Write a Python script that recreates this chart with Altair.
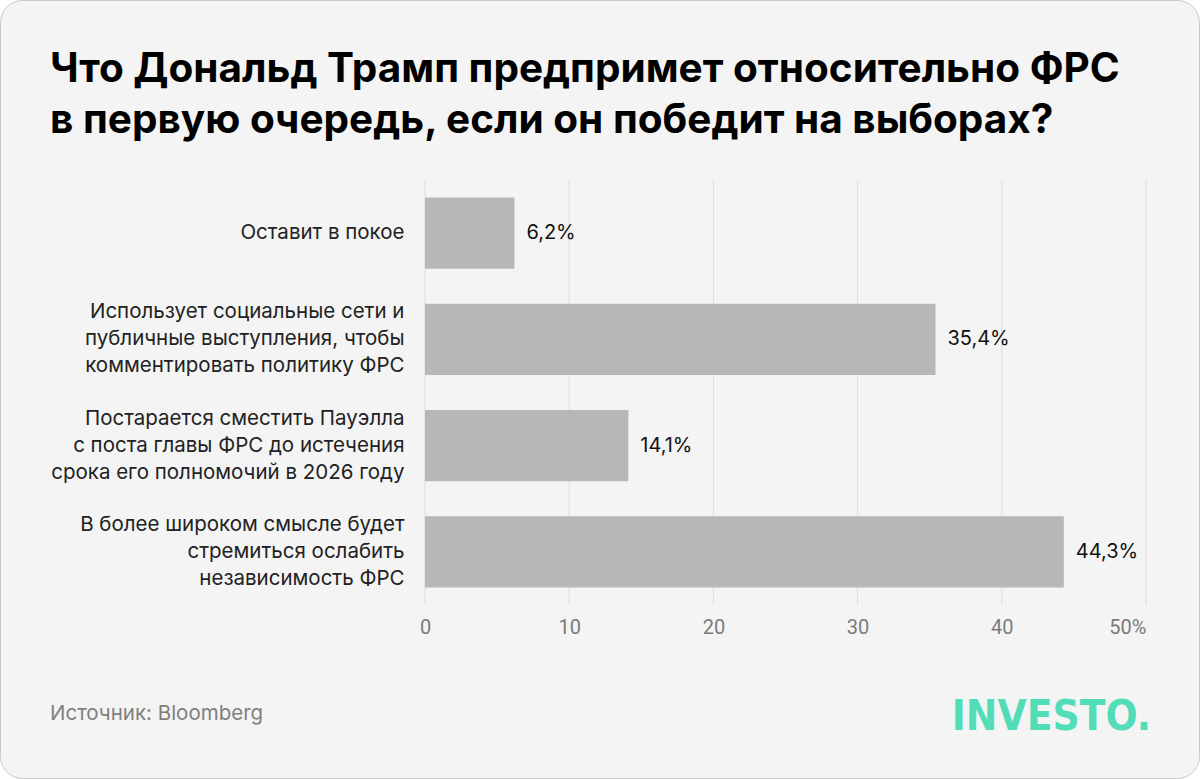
import altair as alt
import pandas as pd

# ---- data ----
CATEGORIES = [
    "Оставит в покое",
    "Использует социальные сети и\nпубличные выступления, чтобы\nкомментировать политику ФРС",
    "Постарается сместить Пауэлла\nс поста главы ФРС до истечения\nсрока его полномочий в 2026 году",
    "В более широком смысле будет\nстремиться ослабить\nнезависимость ФРС",
]
VALUES = [6.2, 35.4, 14.1, 44.3]
X_TICKS = [0, 10, 20, 30, 40, 50]

TITLE = "Что Дональд Трамп предпримет относительно ФРС\nв первую очередь, если он победит на выборах?"
SOURCE = "Источник: Bloomberg"
LOGO = "INVESTO."

FONT = "Inter, 'Liberation Sans', sans-serif"
TICK_FONT = "Roboto, 'Liberation Sans', sans-serif"

df = pd.DataFrame({
    "cat": CATEGORIES,
    "value": VALUES,
    "label": [f"{v:.1f}".replace(".", ",") + "%" for v in VALUES],
})
ticks_df = pd.DataFrame({"tick": X_TICKS})

W, H = 721, 425
PL, PT = 425, 180
LH = 27

one = pd.DataFrame({"k": [0]})

x_scale = alt.Scale(domain=[0, 50], nice=False)

card = alt.Chart(one).mark_rect(
    fill="#f4f4f4", stroke="#c9c9c9", strokeWidth=1, cornerRadius=22
).encode(
    x=alt.value(0.5 - PL), x2=alt.value(1199.5 - PL),
    y=alt.value(0.5 - PT), y2=alt.value(778.5 - PT),
)

grid = alt.Chart(ticks_df).mark_rule(color="#dcdcdc", strokeWidth=1).encode(
    x=alt.X("tick:Q", scale=x_scale, title=None),
    y=alt.value(0), y2=alt.value(H),
)

y_enc = alt.Y(
    "cat:N", sort=CATEGORIES, title=None,
    scale=alt.Scale(paddingInner=0.33, paddingOuter=0.165),
    axis=alt.Axis(
        labelExpr="split(datum.label, '\\n')",
        labelOffset={
            "condition": {"test": "length(split(datum.label, '\\n')) > 1", "value": -LH},
            "value": 0,
        },
        labelFont=FONT, labelFontSize=20.5, labelLineHeight=LH,
        labelColor="#222222", labelPadding=21, labelLimit=0,
        labelAlign="right", labelBaseline="middle",
        ticks=False, domain=False, grid=False, zindex=1,
    ),
)

x_enc = alt.X(
    "value:Q", title=None, scale=x_scale,
    axis=alt.Axis(
        values=X_TICKS,
        labelExpr="datum.value == 50 ? '50%' : datum.label",
        labelAlign={"condition": {"test": "datum.value == 50", "value": "right"}, "value": "center"},
        labelFont=TICK_FONT, labelFontSize=20, labelColor="#7b7b7b",
        labelPadding=12, ticks=False, domain=False, grid=False, zindex=1,
    ),
)

bars = alt.Chart(df).mark_bar(color="#b7b7b7").encode(x=x_enc, y=y_enc)

vals = alt.Chart(df).mark_text(
    align="left", baseline="middle", dx=12, font=FONT, fontSize=20, color="#111111"
).encode(x="value:Q", y=alt.Y("cat:N", sort=CATEGORIES), text="label:N")

title = alt.Chart(one).mark_text(
    align="left", baseline="alphabetic", font=FONT, fontSize=40.5, fontWeight="bold",
    color="#000000", lineBreak="\n", lineHeight=51,
).encode(x=alt.value(50 - PL), y=alt.value(82 - PT), text=alt.value(TITLE))

source = alt.Chart(one).mark_text(
    align="left", baseline="alphabetic", font=FONT, fontSize=20.5, color="#808080",
).encode(x=alt.value(50 - PL), y=alt.value(720 - PT), text=alt.value(SOURCE))

logo = alt.Chart(one).mark_text(
    align="right", baseline="alphabetic",
    font="'Liberation Sans Narrow', 'DejaVu Sans Condensed', 'Roboto', sans-serif",
    fontSize=42, fontWeight="bold", color="#52ddb9",
).encode(x=alt.value(1151 - PL), y=alt.value(730 - PT), text=alt.value(LOGO))

chart = alt.layer(card, grid, bars, vals, title, source, logo).properties(
    width=W, height=H,
    autosize=alt.AutoSizeParams(type="none"),
    padding={"left": PL, "top": PT, "right": 1200 - PL - W, "bottom": 779 - PT - H},
).configure(background="#ffffff").configure_view(stroke=None)

chart.save("out.html", embed_options={"renderer": "svg", "actions": False})
